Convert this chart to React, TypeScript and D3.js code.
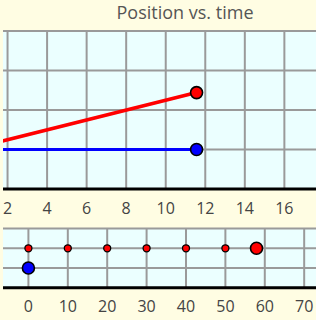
import React from "react";
import * as d3 from "d3";

const title = "Position vs. time";
// top chart: position vs time
const topTicks = [2, 4, 6, 8, 10, 12, 14, 16, 18];
const topYGrid = [1, 2, 3, 4];
const redTime = [0, 11.56];
const redPos = [1, 2.44];
const blueTime = [0, 11.56];
const bluePos = [1, 1];
// bottom chart: motion diagram
const botTicks = [0, 10, 20, 30, 40, 50, 60, 70];
const botYGrid = [1, 2, 3];
const redTrail = [0, 10, 20, 30, 40, 50];
const redNow = 57.9;
const blueNow = 0;

export default function App() {
  const W = 320, H = 320;
  const left = 3, right = 316;
  const xTop = d3.scaleLinear().domain([1.77, 17.6]).range([left, right]);
  const yTop = d3.scaleLinear().domain([0, 4]).range([189, 31]);
  const xBot = d3.scaleLinear().domain([-6.45, 73.0]).range([left, right]);
  const yBot = d3.scaleLinear().domain([0, 3]).range([287.7, 228.6]);
  const line = d3.line<[number, number]>().x(d => xTop(d[0])).y(d => yTop(d[1]));
  const redPts: [number, number][] = redTime.map((t, i) => [t, redPos[i]]);
  const bluePts: [number, number][] = blueTime.map((t, i) => [t, bluePos[i]]);
  const grid = "#9a9a9a";
  const font = "'Open Sans', sans-serif";
  return (
    <svg width={W} height={H} style={{ position: "absolute", left: 0, top: 0 }}>
      <defs>
        <clipPath id="topclip">
          <rect x={left} y={30} width={right - left} height={189 - 30} />
        </clipPath>
      </defs>
      <rect x={0} y={0} width={right} height={H} fill="#fffde3" />
      <text x={185} y={18.5} textAnchor="middle" fontFamily={font} fontSize={18} fill="#555">{title}</text>
      {/* top plot */}
      <rect x={left} y={30} width={right - left} height={189 - 30} fill="#ebffff" />
      <g clipPath="url(#topclip)">
        {topTicks.map(t => (
          <line key={t} x1={xTop(t)} x2={xTop(t)} y1={30} y2={189} stroke={grid} strokeWidth={2} />
        ))}
        {topYGrid.map(v => (
          <line key={v} x1={left} x2={right} y1={yTop(v)} y2={yTop(v)} stroke={grid} strokeWidth={2} />
        ))}
        <path d={line(redPts) || ""} stroke="#ff0000" strokeWidth={3.6} fill="none" />
        <path d={line(bluePts) || ""} stroke="#0000ff" strokeWidth={3.2} fill="none" />
      </g>
      <line x1={left} x2={right} y1={189} y2={189} stroke="#000" strokeWidth={3} />
      <circle cx={xTop(redTime[1])} cy={yTop(redPos[1])} r={6} fill="#ff0000" stroke="#000" strokeWidth={1.6} />
      <circle cx={xTop(blueTime[1])} cy={yTop(bluePos[1])} r={6} fill="#0000ff" stroke="#000" strokeWidth={1.6} />
      {topTicks.filter(t => xTop(t) < right).map(t => (
        <text key={t} x={xTop(t)} y={214} textAnchor="middle" fontFamily={font} fontSize={16} fill="#444">{t}</text>
      ))}
      {/* bottom plot */}
      <rect x={left} y={228.6} width={right - left} height={287.7 - 228.6} fill="#ebffff" />
      {botTicks.map(t => (
        <line key={t} x1={xBot(t)} x2={xBot(t)} y1={228.6} y2={287.7} stroke={grid} strokeWidth={2} />
      ))}
      {botYGrid.map(v => (
        <line key={v} x1={left} x2={right} y1={yBot(v)} y2={yBot(v)} stroke={grid} strokeWidth={2} />
      ))}
      <line x1={left} x2={right} y1={287.7} y2={287.7} stroke="#000" strokeWidth={3} />
      {redTrail.map(p => (
        <circle key={p} cx={xBot(p)} cy={yBot(2)} r={3.5} fill="#ff0000" stroke="#000" strokeWidth={1.3} />
      ))}
      <circle cx={xBot(redNow)} cy={yBot(2)} r={6} fill="#ff0000" stroke="#000" strokeWidth={1.6} />
      <circle cx={xBot(blueNow)} cy={yBot(1)} r={6} fill="#0000ff" stroke="#000" strokeWidth={1.6} />
      {botTicks.map(t => (
        <text key={t} x={xBot(t)} y={312} textAnchor="middle" fontFamily={font} fontSize={16} fill="#444">{t}</text>
      ))}
    </svg>
  );
}
